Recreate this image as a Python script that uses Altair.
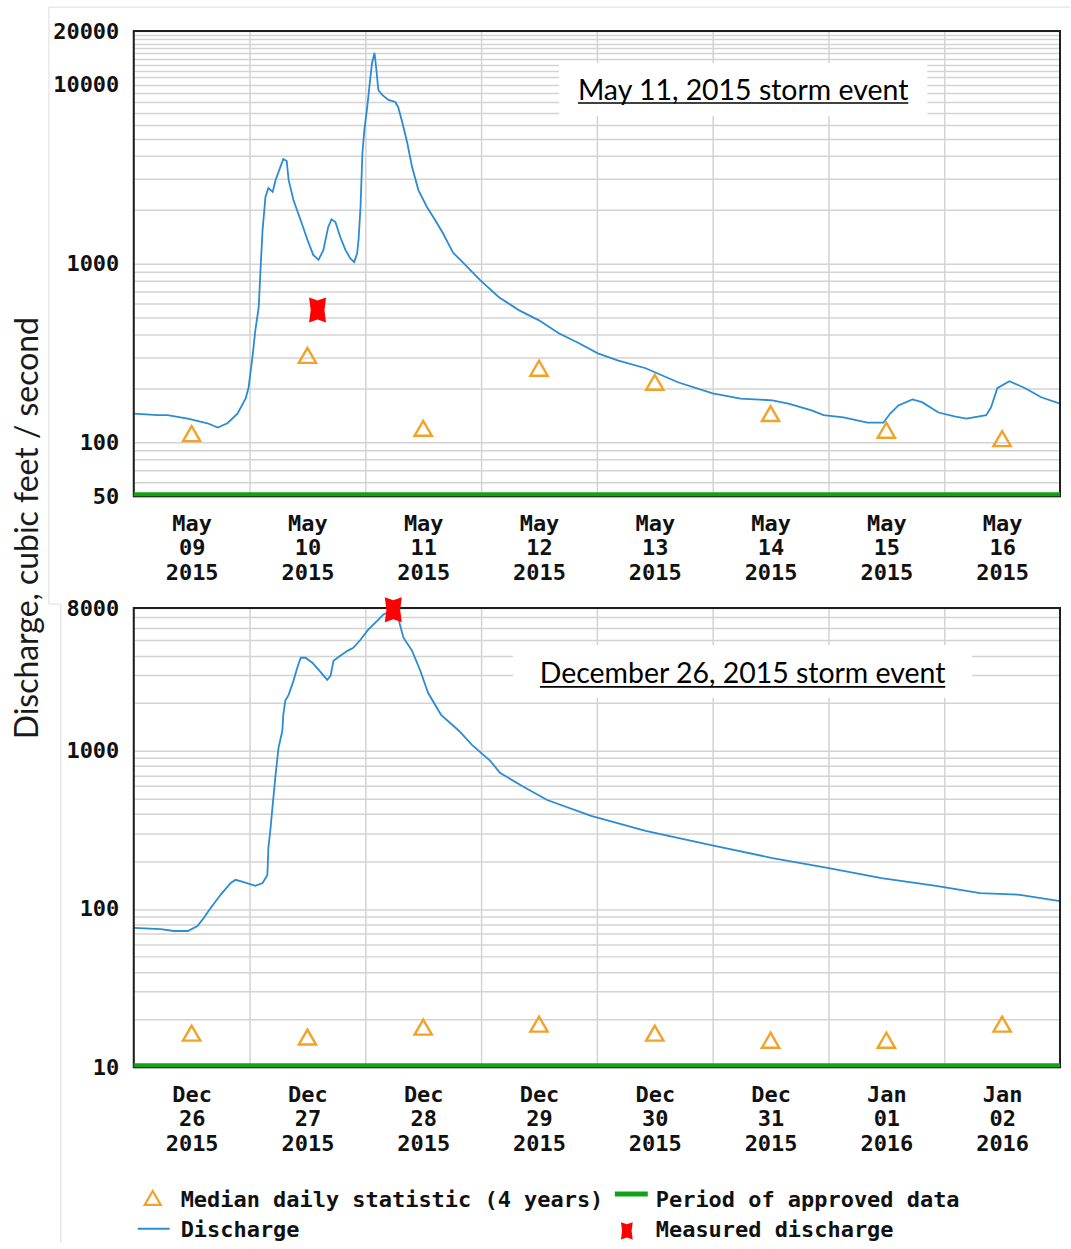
import altair as alt
import pandas as pd

# ---------------------------------------------------------------------------
# May 2015 storm: instantaneous discharge (cfs), hours after 2015-05-09 00:00
# ---------------------------------------------------------------------------
MAY_START = "2015-05-09"
MAY_HOURS = [0, 5, 7, 11.2, 15.3, 17.4, 19.4, 21.5, 23.2, 23.8, 24.6, 25.2, 25.9,
             26.3, 26.7, 27.3, 27.9, 28.8, 29.4, 30.4, 31.0, 31.7, 32.1, 33.1,
             34.6, 36.0, 37.2, 38.3, 39.3, 40.3, 41.0, 41.8, 42.8, 43.9, 44.9,
             45.7, 46.3, 46.6, 47.0, 47.4, 47.8, 48.4, 49.0, 49.4, 49.9, 50.3,
             50.7, 51.5, 52.8, 54.2, 54.8, 55.7, 56.7, 57.7, 59.0, 60.8, 62.5,
             64.1, 66.2, 67.7, 71.8, 75.7, 79.9, 84.0, 88.1, 92.3, 96.2, 100.3,
             106.1, 112.8, 120.0, 125.8, 132.4, 135.7, 140.5, 143.0, 147.1,
             152.1, 155.4, 156.8, 158.5, 161.4, 163.4, 166.8, 170.1, 172.6,
             176.7, 177.7, 179.0, 181.5, 184.8, 188.1, 192.0]
MAY_CFS = [145, 142, 142, 136, 128, 121, 128, 145, 176, 203, 299, 424, 570,
           955, 1540, 2360, 2650, 2520, 2940, 3480, 3850, 3750, 2940, 2270,
           1750, 1360, 1120, 1050, 1190, 1600, 1770, 1710, 1410, 1190, 1070,
           1020, 1140, 1360, 2070, 4160, 5600, 7530, 10700, 13300, 15100, 12100,
           9370, 8790, 8240, 8030, 7530, 6120, 4730, 3470, 2580, 2070, 1750,
           1480, 1150, 1050, 809, 649, 548, 482, 408, 359, 315, 288,
           260, 217, 188, 176, 172, 165, 151, 142, 138,
           129, 129, 145, 161, 174, 168, 147, 140, 136,
           142, 157, 201, 220, 201, 179, 165]
MAY_MEDIAN_CFS = [112, 307, 120, 260, 217, 145, 117, 105]
MAY_MEASURED_HOURS = [38.1]
MAY_MEASURED_CFS = [550]

# ---------------------------------------------------------------------------
# December 2015 storm: discharge (cfs), hours after 2015-12-26 00:00
# ---------------------------------------------------------------------------
DEC_START = "2015-12-26"
DEC_HOURS = [0, 5.6, 8.3, 11.2, 13.2, 14.5, 15.9, 18.0, 20.1, 21.1, 22.8, 25.2,
             26.7, 27.7, 27.9, 28.3, 28.8, 29.4, 30.0, 30.8, 31.0, 31.4, 32.1,
             33.1, 33.9, 34.6, 35.6, 37.0, 38.3, 40.1, 40.8, 41.4, 42.8, 44.3,
             45.5, 47.0, 48.6, 50.5, 51.7, 53.2, 54.8, 55.9, 57.7, 59.4, 61.0,
             63.7, 67.4, 70.1, 73.9, 75.9, 80.5, 85.7, 94.8, 106.1, 120.4,
             132.4, 143.8, 155.0, 166.3, 175.4, 183.7, 192.0]
DEC_CFS = [76, 74.6, 72.6, 72.6, 78, 87.7, 101, 123, 146, 153, 148, 140,
           146, 164, 243, 312, 455, 705, 1040, 1340, 1690, 2070, 2260,
           2770, 3350, 3880, 3880, 3610, 3260, 2810, 2980, 3710, 3990, 4290,
           4480, 5040, 5840, 6650, 7260, 7690, 6950, 5190, 4290, 3210, 2330,
           1690, 1340, 1090, 865, 726, 600, 489, 388, 312, 251,
           210, 182, 157, 140, 126, 123, 112]
DEC_MEDIAN_CFS = [16.4, 15.5, 17.9, 18.7, 16.4, 14.8, 14.8, 18.7]
DEC_MEASURED_HOURS = [53.8]
DEC_MEASURED_CFS = [7800]

N_DAYS = 8

# log-axis gridlines and the values that carry a label
MAY_Y_DOMAIN = [50, 20000]
MAY_Y_GRID = [50, 60, 70, 80, 90, 100, 200, 300, 400, 500, 600, 700, 800, 900,
              1000, 2000, 3000, 4000, 5000, 6000, 7000, 8000, 9000,
              10000, 11000, 12000, 13000, 14000, 15000, 16000, 17000, 18000,
              19000, 20000]
MAY_Y_LABELS = [50, 100, 1000, 10000, 20000]

DEC_Y_DOMAIN = [10, 8000]
DEC_Y_GRID = [10, 20, 30, 40, 50, 60, 70, 80, 90, 100, 200, 300, 400, 500, 600,
              700, 800, 900, 1000, 2000, 3000, 4000, 5000, 6000, 7000, 8000]
DEC_Y_LABELS = [10, 100, 1000, 8000]

MAY_NOTE = "May 11, 2015 storm event"
DEC_NOTE = "December 26, 2015 storm event"
Y_TITLE = "Discharge, cubic feet / second"
LEGEND_LABELS = ["Median daily statistic (4 years)", "Period of approved data",
                 "Discharge", "Measured discharge"]

# ---------------------------------------------------------------------------
# styling / layout
# ---------------------------------------------------------------------------
PLOT_W = 928
MAY_H = 466
DEC_H = 460
GAP = 113

BLUE = "#2b8bd3"
ORANGE = "#f2a227"
GREEN = "#12a312"
RED = "#ff0000"
GRID = "#d3d3d3"
FRAME = "#dcdcdc"
MONO = "DejaVu Sans Mono"
SANS = "Lato"
MONO_SIZE = 22

MEAS_SHAPE = ("M-0.68,-1 L0,-0.76 L0.68,-1 L0.55,0 L0.68,1 L0,0.76 "
              "L-0.68,1 L-0.55,0 Z")

ONE = pd.DataFrame({"k": [0]})


def dt(ts):
    return alt.DateTime(year=ts.year, month=ts.month, date=ts.day,
                        hours=ts.hour, minutes=ts.minute)


def text_layer(label, x, y, **kw):
    return alt.Chart(pd.DataFrame({"label": [label]})).mark_text(**kw).encode(
        x=alt.value(x), y=alt.value(y), text="label:N")


def panel(start, hours, cfs, median, meas_h, meas_cfs, y_domain, y_grid,
          y_labels, height, note, box, note_pos, underline):
    t0 = pd.Timestamp(start)
    days = pd.date_range(t0, periods=N_DAYS, freq="D")
    flow = pd.DataFrame({"time": t0 + pd.to_timedelta(hours, unit="h"), "cfs": cfs})
    med = pd.DataFrame({"time": days + pd.Timedelta(hours=12), "cfs": median})
    meas = pd.DataFrame({"time": t0 + pd.to_timedelta(meas_h, unit="h"),
                         "cfs": meas_cfs})
    approved = pd.DataFrame({"start": [t0],
                             "end": [t0 + pd.Timedelta(days=N_DAYS)]})

    x_scale = alt.Scale(domain=[dt(t0), dt(t0 + pd.Timedelta(days=N_DAYS))],
                        nice=False)
    x_axis = alt.Axis(
        values=[dt(d) for d in days], title=None, grid=True,
        labelOffset=PLOT_W / N_DAYS / 2, labelFlush=False, labelOverlap=False,
        labelBound=False, labelAlign="center", labelBaseline="top",
        labelLineHeight=24.5, labelPadding=17,
        labelExpr="[timeFormat(datum.value, '%b'), timeFormat(datum.value, '%d'),"
                  " timeFormat(datum.value, '%Y')]")
    y_scale = alt.Scale(type="log", domain=y_domain, nice=False)
    y_axis = alt.Axis(
        values=y_grid, title=None, grid=True, labelOverlap=False,
        labelFlush=False, labelBound=False, labelPadding=15,
        labelExpr=f"indexof({y_labels}, datum.value) >= 0 ? "
                  "format(datum.value, 'd') : ''")

    X = alt.X("time:T", scale=x_scale, axis=x_axis, title=None)
    Y = alt.Y("cfs:Q", scale=y_scale, axis=y_axis, title=None)

    box_layer = alt.Chart(ONE).mark_rect(color="white").encode(
        x=alt.value(box[0]), x2=alt.value(box[1]),
        y=alt.value(box[2]), y2=alt.value(box[3]))
    note_layer = text_layer(note, note_pos[0], note_pos[1], font=SANS,
                            fontSize=28.5, color="black", align="center",
                            baseline="alphabetic")
    underline_layer = alt.Chart(ONE).mark_rule(color="black", strokeWidth=1.6).encode(
        x=alt.value(underline[0]), x2=alt.value(underline[1]),
        y=alt.value(underline[2]))

    line = alt.Chart(flow).mark_line(color=BLUE, strokeWidth=1.8).encode(x=X, y=Y)
    tri = alt.Chart(med).mark_point(
        shape="triangle-up", filled=False, color=ORANGE, size=300,
        strokeWidth=2.4, opacity=1).encode(
        x=alt.X("time:T", title=None), y=alt.Y("cfs:Q", title=None))
    border = alt.Chart(ONE).mark_rect(
        fillOpacity=0, stroke="#1e1e1e", strokeWidth=2).encode(
        x=alt.value(0), x2=alt.value(PLOT_W), y=alt.value(0), y2=alt.value(height))
    green = alt.Chart(approved).mark_rule(
        color=GREEN, strokeWidth=4, yOffset=-2).encode(
        x=alt.X("start:T", title=None), x2="end:T", y=alt.datum(y_domain[0]))
    measured = alt.Chart(meas).mark_point(
        shape=MEAS_SHAPE, filled=True, color=RED, size=625, opacity=1,
        strokeWidth=0).encode(
        x=alt.X("time:T", title=None), y=alt.Y("cfs:Q", title=None))

    return [box_layer, note_layer, underline_layer, line, tri, border, green,
            measured]


# ---------------------------------------------------------------------------
# upper panel (May) with the shared y title and the frame lines
# ---------------------------------------------------------------------------
may_layers = panel(MAY_START, MAY_HOURS, MAY_CFS, MAY_MEDIAN_CFS,
                   MAY_MEASURED_HOURS, MAY_MEASURED_CFS, MAY_Y_DOMAIN,
                   MAY_Y_GRID, MAY_Y_LABELS, MAY_H, MAY_NOTE,
                   box=(426, 795, 32, 85), note_pos=(610.5, 69),
                   underline=(445, 776, 72))

anchor = alt.Chart(ONE).mark_rule(color="white", strokeWidth=1).encode(
    x=alt.value(-133), x2=alt.value(-132), y=alt.value(-29.5))
frame_top = alt.Chart(ONE).mark_rule(color=FRAME, strokeWidth=1).encode(
    x=alt.value(-85), x2=alt.value(938), y=alt.value(-24))
frame_left = alt.Chart(ONE).mark_rule(color=FRAME, strokeWidth=1).encode(
    x=alt.value(-85), y=alt.value(-24), y2=alt.value(574))
y_title = text_layer(Y_TITLE, -106, 498, font=SANS, fontSize=32,
                     color="#1a1a1a", angle=270, align="center",
                     baseline="middle")

top = alt.layer(anchor, frame_top, frame_left, *may_layers, y_title).properties(
    width=PLOT_W, height=MAY_H)

# ---------------------------------------------------------------------------
# lower panel (December) with the legend underneath
# ---------------------------------------------------------------------------
dec_layers = panel(DEC_START, DEC_HOURS, DEC_CFS, DEC_MEDIAN_CFS,
                   DEC_MEASURED_HOURS, DEC_MEASURED_CFS, DEC_Y_DOMAIN,
                   DEC_Y_GRID, DEC_Y_LABELS, DEC_H, DEC_NOTE,
                   box=(380, 840, 37, 90), note_pos=(610, 75),
                   underline=(407, 813, 79))

frame2_top = alt.Chart(ONE).mark_rule(color=FRAME, strokeWidth=1).encode(
    x=alt.value(-85), x2=alt.value(-73), y=alt.value(-4))
frame2_left = alt.Chart(ONE).mark_rule(color=FRAME, strokeWidth=1).encode(
    x=alt.value(-73), y=alt.value(-4), y2=alt.value(636))

legend_font = dict(font=MONO, fontWeight="bold", fontSize=MONO_SIZE,
                   color="#111111", align="left", baseline="middle")
leg_tri = alt.Chart(ONE).mark_point(
    shape="triangle-up", filled=False, color=ORANGE, size=260, strokeWidth=2.2,
    opacity=1).encode(x=alt.value(19), y=alt.value(591))
leg_green = alt.Chart(ONE).mark_rule(color=GREEN, strokeWidth=5).encode(
    x=alt.value(482), x2=alt.value(515), y=alt.value(587))
leg_blue = alt.Chart(ONE).mark_rule(color=BLUE, strokeWidth=2).encode(
    x=alt.value(4), x2=alt.value(36), y=alt.value(622))
leg_red = alt.Chart(ONE).mark_point(
    shape=MEAS_SHAPE, filled=True, color=RED, size=300, strokeWidth=0,
    opacity=1).encode(x=alt.value(494), y=alt.value(624))
leg_texts = [
    text_layer(LEGEND_LABELS[0], 47, 593, **legend_font),
    text_layer(LEGEND_LABELS[1], 523, 593, **legend_font),
    text_layer(LEGEND_LABELS[2], 47, 623, **legend_font),
    text_layer(LEGEND_LABELS[3], 523, 623, **legend_font),
]

bottom = alt.layer(frame2_top, frame2_left, *dec_layers, leg_tri, leg_green,
                   leg_blue, leg_red, *leg_texts).properties(
    width=PLOT_W, height=DEC_H)

chart = (
    alt.vconcat(top, bottom, spacing=GAP - 1, bounds="flush")
    .properties(padding=0, background="white")
    .configure_view(stroke=None)
    .configure_axis(
        labelFont=MONO, labelFontWeight="bold", labelFontSize=MONO_SIZE,
        labelColor="#111111", gridColor=GRID, gridWidth=1.5,
        ticks=False, domain=False)
)

chart.save("out.html", embed_options={"renderer": "svg", "actions": False})
